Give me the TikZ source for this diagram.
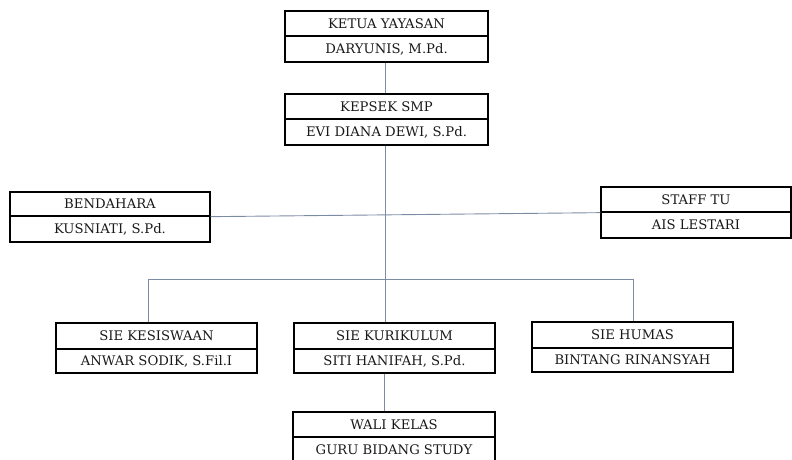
\documentclass[tikz,border=0pt]{standalone}
\usepackage{fontspec}
\setmainfont{DejaVu Serif}
\definecolor{conn}{RGB}{125,140,165}
\definecolor{txt}{RGB}{25,25,25}
\begin{document}
\begin{tikzpicture}[x=1pt,y=1pt,
  cell/.style={draw=black, line width=1.3pt, rectangle, inner sep=0pt,
     text=txt, font=\fontsize{13.2}{15}\selectfont, anchor=center},
  link/.style={draw=conn, line width=0.9pt}]
\useasboundingbox (0,0) rectangle (792,-459);
\clip (0,0) rectangle (792,-459);
% Ketua
\node[cell, minimum width=203, minimum height=25] (kt) at (386.5,-23.5) {KETUA YAYASAN};
\node[cell, minimum width=203, minimum height=26] (kb) at (386.5,-49) {DARYUNIS, M.Pd.};
% Kepsek
\node[cell, minimum width=203, minimum height=25] (pt) at (386.5,-106.5) {KEPSEK SMP};
\node[cell, minimum width=203, minimum height=26] (pb) at (386.5,-132) {EVI DIANA DEWI, S.Pd.};
% Bendahara
\node[cell, minimum width=200, minimum height=24] (bt) at (110,-204) {BENDAHARA};
\node[cell, minimum width=200, minimum height=26] (bb) at (110,-229) {KUSNIATI, S.Pd.};
% Staff TU
\node[cell, minimum width=190, minimum height=25] (st) at (696,-199.5) {STAFF TU};
\node[cell, minimum width=190, minimum height=26] (sb) at (696,-225) {AIS LESTARI};
% Kesiswaan
\node[cell, minimum width=201, minimum height=26] (et) at (156.5,-336) {SIE KESISWAAN};
\node[cell, minimum width=201, minimum height=24] (eb) at (156.5,-361) {ANWAR SODIK, S.Fil.I};
% Kurikulum
\node[cell, minimum width=201, minimum height=26] (ut) at (394.5,-336) {SIE KURIKULUM};
\node[cell, minimum width=201, minimum height=24] (ub) at (394.5,-361) {SITI HANIFAH, S.Pd.};
% Humas
\node[cell, minimum width=201, minimum height=26] (ht) at (632.5,-335) {SIE HUMAS};
\node[cell, minimum width=201, minimum height=24] (hb) at (632.5,-360) {BINTANG RINANSYAH};
% Wali kelas
\node[cell, minimum width=202, minimum height=25] (wt) at (394,-424.5) {WALI KELAS};
\node[cell, minimum width=202, minimum height=26] (wb) at (394,-450) {GURU BIDANG STUDY};
% coordinates for connector routing
\coordinate (trunk) at (385,-279);
\coordinate (lft) at (148,-279);
\coordinate (rgt) at (633,-279);
\coordinate (wx) at (384,-400);
% connectors
\draw[link] (kb.south -| trunk) -- (pt.north -| trunk);
\draw[link] (pb.south -| trunk) -- (trunk);
\draw[link] (bt.south east) -- (st.south west);
\draw[link] (et.north -| lft) -- (lft) -- (rgt) -- (ht.north -| rgt);
\draw[link] (trunk) -- (ut.north -| trunk);
\draw[link] (ub.south -| wx) -- (wt.north -| wx);
\end{tikzpicture}
\end{document}
